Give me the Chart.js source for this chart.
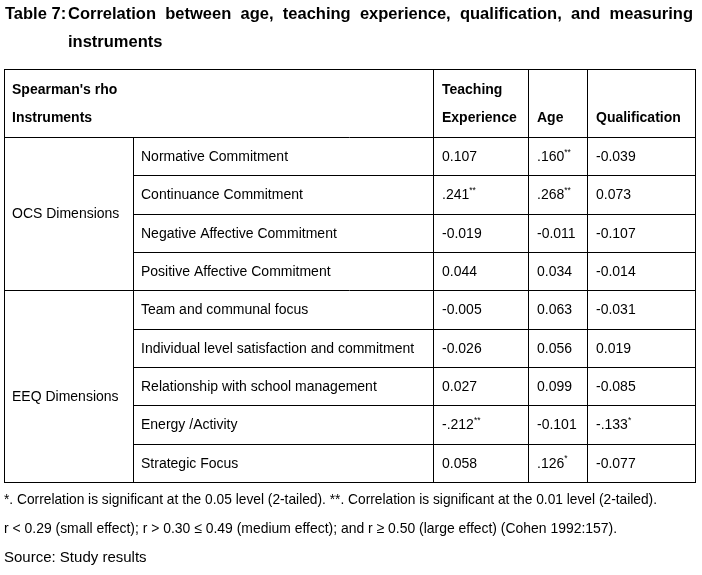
<!DOCTYPE html>
<html>
<head>
<meta charset="utf-8">
<script src="https://cdn.jsdelivr.net/npm/chart.js@4.4.1/dist/chart.umd.min.js"></script>
<style>
  html, body { margin: 0; padding: 0; background: #fff; }
  canvas { display: block; }
</style>
</head>
<body>
<canvas id="myChart" width="702" height="575"></canvas>
<script>
'use strict';

// table content
const groups = ['OCS Dimensions', 'EEQ Dimensions'];
const groupSizes = [4, 5];
const instruments = [
  'Normative Commitment',
  'Continuance Commitment',
  'Negative Affective Commitment',
  'Positive Affective Commitment',
  'Team and communal focus',
  'Individual level satisfaction and commitment',
  'Relationship with school management',
  'Energy /Activity',
  'Strategic Focus'
];
const measures = ['Teaching Experience', 'Age', 'Qualification'];

const teachingExperience = [0.107, 0.241, -0.019, 0.044, -0.005, -0.026, 0.027, -0.212, 0.058];
const teachingSig = ['', '**', '', '', '', '', '', '**', ''];
const age = [0.160, 0.268, -0.011, 0.034, 0.063, 0.056, 0.099, -0.101, 0.126];
const ageSig = ['**', '**', '', '', '', '', '', '', '*'];
const qualification = [-0.039, 0.073, -0.107, -0.014, -0.031, 0.019, -0.085, -0.133, -0.077];
const qualificationSig = ['', '', '', '', '', '', '', '*', ''];

const titleLabel = 'Table 7:';
const titleLine1 = 'Correlation between age, teaching experience, qualification, and measuring';
const titleLine2 = 'instruments';
const footNotes = [
  '*. Correlation is significant at the 0.05 level (2-tailed). **. Correlation is significant at the 0.01 level (2-tailed).',
  'r < 0.29 (small effect); r > 0.30 \u2264 0.49 (medium effect); and r \u2265 0.50 (large effect) (Cohen 1992:157).'
];
const sourceNote = 'Source: Study results';

// layout (table units = px from left border)
const colEdges = [0, 129, 429, 524, 583, 691];
const groupLabelNudge = [-1, 10];
const FONT = '"Liberation Sans", Arial, sans-serif';

let columns = [teachingExperience, age, qualification];
let sigs = [teachingSig, ageSig, qualificationSig];

function formatValue(v, sig){
  let s = v.toFixed(3);
  if(sig){
    s = s.replace('0.', '.');
  }
  return s;
}

function crisp(p){
  return Math.round(p) + 0.5;
}

function line(ctx, x1, y1, x2, y2){
  ctx.beginPath();
  ctx.moveTo(x1, y1);
  ctx.lineTo(x2, y2);
  ctx.stroke();
}

const tablePlugin = {
  id: 'tableDraw',
  afterDraw(chart){
    const ctx = chart.ctx;
    const xs = chart.scales.x;
    const ys = chart.scales.y;
    const step = Math.abs(ys.getPixelForValue(1) - ys.getPixelForValue(0));
    const rowTop = (i) => ys.getPixelForValue(i) - step / 2;
    const colX = (c) => xs.getPixelForValue(colEdges[c]);
    const left = colX(0);
    const right = colX(colEdges.length - 1);
    const top = chart.chartArea.top - 68;
    const headTop = chart.chartArea.top;
    const bottom = rowTop(instruments.length);

    ctx.save();
    ctx.fillStyle = '#000';
    ctx.textBaseline = 'middle';

    // title, first line justified
    ctx.font = 'bold 16.5px ' + FONT;
    ctx.fillText(titleLabel, 5, 14);
    let words = titleLine1.split(' ');
    let widths = words.map(w => ctx.measureText(w).width);
    let total = widths.reduce((a, b) => a + b, 0);
    let gap = (693 - 68 - total) / (words.length - 1);
    let wx = 68;
    for(let i = 0; i < words.length; i++){
      ctx.fillText(words[i], wx, 14);
      wx += widths[i] + gap;
    }
    ctx.fillText(titleLine2, 68, 42);

    // grid lines
    ctx.strokeStyle = '#000';
    ctx.lineWidth = 1;
    ctx.strokeRect(crisp(left), crisp(top), Math.round(right - left), Math.round(bottom - top));
    line(ctx, left, crisp(headTop), right, crisp(headTop));
    line(ctx, crisp(colX(1)), headTop, crisp(colX(1)), bottom);
    for(let c = 2; c < colEdges.length - 1; c++){
      line(ctx, crisp(colX(c)), top, crisp(colX(c)), bottom);
    }
    let r0 = 0;
    for(let g = 0; g < groups.length; g++){
      for(let r = r0 + 1; r < r0 + groupSizes[g]; r++){
        line(ctx, colX(1), crisp(rowTop(r)), right, crisp(rowTop(r)));
      }
      r0 += groupSizes[g];
      if(g < groups.length - 1){
        line(ctx, left, crisp(rowTop(r0)), right, crisp(rowTop(r0)));
      }
    }

    // header
    ctx.font = 'bold 14px ' + FONT;
    ctx.fillText('Spearman\'s rho', left + 8, headTop - 47);
    ctx.fillText('Instruments', left + 8, headTop - 19);
    ctx.fillText('Teaching', colX(2) + 9, headTop - 47);
    ctx.fillText('Experience', colX(2) + 9, headTop - 19);
    ctx.fillText(measures[1], colX(3) + 9, headTop - 19);
    ctx.fillText(measures[2], colX(4) + 9, headTop - 19);

    // group and instrument labels
    ctx.font = '14px ' + FONT;
    r0 = 0;
    for(let g = 0; g < groups.length; g++){
      let mid = (rowTop(r0) + rowTop(r0 + groupSizes[g])) / 2 + groupLabelNudge[g];
      ctx.fillText(groups[g], left + 8, mid + 1);
      r0 += groupSizes[g];
    }
    for(let r = 0; r < instruments.length; r++){
      ctx.fillText(instruments[r], colX(1) + 8, ys.getPixelForValue(r) + 1);
    }

    // values, placed at the dataset points
    for(let d = 0; d < columns.length; d++){
      let meta = chart.getDatasetMeta(d);
      meta.data.forEach((pt, i) => {
        let s = formatValue(columns[d][i], sigs[d][i]);
        ctx.font = '14px ' + FONT;
        ctx.fillText(s, pt.x + 9, pt.y + 1);
        if(sigs[d][i]){
          let w = ctx.measureText(s).width;
          ctx.font = '8.5px ' + FONT;
          ctx.fillText(sigs[d][i], pt.x + 9 + w, pt.y - 4);
        }
      });
    }

    // notes
    ctx.font = '15px ' + FONT;
    ctx.fillText(footNotes[0], 4, 500, 653);
    ctx.fillText(footNotes[1], 4, 529, 613);
    ctx.fillText(sourceNote, 4, 558);
    ctx.restore();
  }
};

const ctx = document.getElementById('myChart');

new Chart(ctx, {
  type: 'scatter',
  data: {
    datasets: measures.map((m, c) => ({
      label: m,
      data: instruments.map((name, r) => ({ x: colEdges[c + 2], y: name })),
      pointRadius: 0,
      showLine: false
    }))
  },
  options: {
    responsive: false,
    animation: false,
    events: [],
    layout: {
      padding: { left: 4, right: 7, top: 137, bottom: 93 }
    },
    plugins: {
      legend: { display: false },
      tooltip: { enabled: false }
    },
    scales: {
      x: { type: 'linear', min: 0, max: 691, display: false },
      y: { type: 'category', labels: instruments, offset: true, display: false }
    }
  },
  plugins: [tablePlugin]
});
</script>
</body>
</html>
